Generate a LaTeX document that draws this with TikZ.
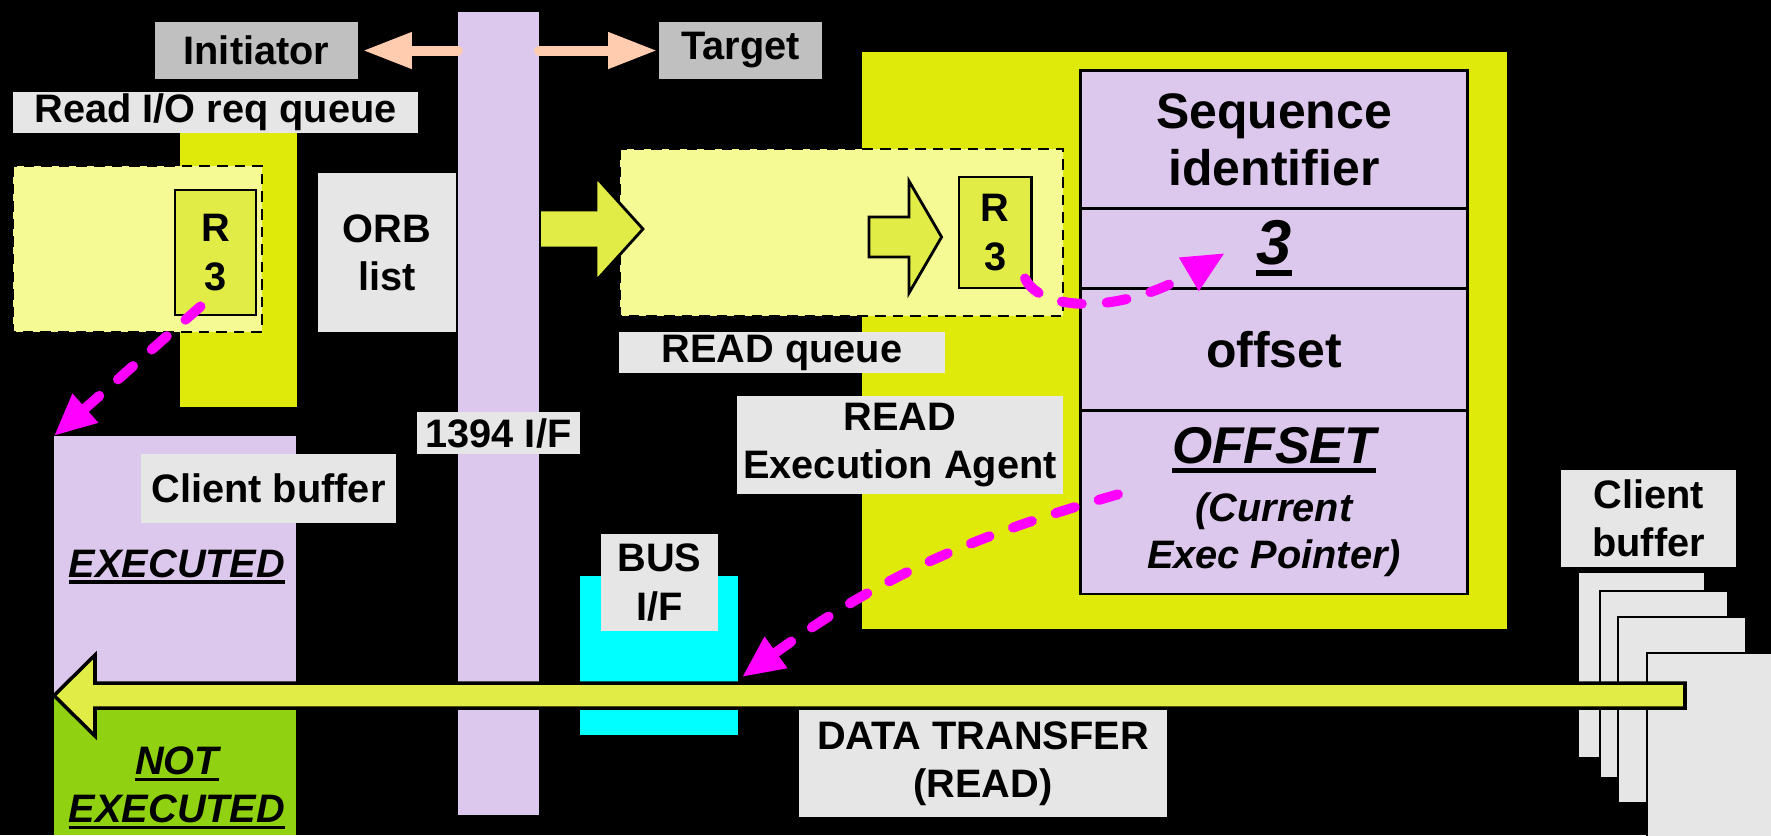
\documentclass[tikz,border=0pt]{standalone}
\usepackage{fontspec}
\setmainfont{Liberation Sans}
\usepackage{tikz}
\usetikzlibrary{arrows.meta, positioning, calc}

\definecolor{lav}{RGB}{220,200,236}
\definecolor{ylw}{RGB}{224,234,10}
\definecolor{paleylw}{RGB}{245,250,148}
\definecolor{limey}{RGB}{225,236,70}
\definecolor{grn}{RGB}{144,210,18}
\definecolor{lgray}{RGB}{230,230,230}
\definecolor{mgray}{RGB}{192,192,192}
\definecolor{salmon}{RGB}{255,204,176}
\definecolor{mag}{RGB}{255,0,255}
\definecolor{cyn}{RGB}{0,255,255}

\newcommand{\lblfont}{\bfseries\fontsize{11.3}{13.7}\selectfont}
\newcommand{\tblfont}{\bfseries\fontsize{14.2}{16.2}\selectfont}
\newcommand{\fatul}[1]{\setbox0=\hbox{#1}\rlap{\rule[-0.17em]{\wd0}{0.09em}}\box0}

\tikzset{
  lbl/.style={fill=lgray, inner sep=0pt, align=center, font=\lblfont},
  tag/.style={fill=mgray, inner sep=0pt, font=\lblfont},
  rbox/.style={draw, fill=limey, line width=0.8pt, inner sep=0pt, align=center, font=\lblfont},
  cell/.style={draw, fill=lav, line width=0.8pt, inner sep=0pt, outer sep=0pt, minimum width=3.86cm, align=center},
  blockarr/.style={draw, fill=limey, line width=0.8pt, line join=miter},
  queuebox/.style={draw, fill=paleylw, densely dashed, line width=0.6pt},
  magarr/.style={mag, line width=0.1cm, line cap=round, dash pattern=on 0.2cm off 0.25cm, -{Triangle[length=0.42cm,width=0.36cm]}},
  pinkarr/.style={salmon, line width=0.1cm, line cap=round, -{Triangle[length=0.49cm,width=0.34cm]}},
  page/.style={draw, fill=lgray, line width=0.6pt}
}

\begin{document}
\begin{tikzpicture}[x=0.01cm, y=-0.01cm]
\useasboundingbox (0,0) rectangle (1771,835);
\fill[black] (0,0) rectangle (1771,835);

% initiator side queue
\fill[ylw] (180,133) rectangle (297,407);
\node[lbl, minimum width=4.05cm, minimum height=0.41cm] (rqlbl) at (215.5,112.5) {Read I/O req queue};
\draw[queuebox] (13,166) rectangle (262,332);
\node[rbox, minimum width=0.81cm, minimum height=1.25cm] (rone) at (215.5,252.5) {R\\3};
\node[lbl, minimum width=1.385cm, minimum height=1.59cm] (orb) at (387,252.5) {ORB\\list};

% bus and its two ends
\node[tag, minimum width=2.03cm, minimum height=0.57cm] (init) at (256.5,50.5) {Initiator};
\node[tag, minimum width=1.63cm, minimum height=0.57cm] (targ) at (740.5,50.5) {Target};
\node[fill=lav, minimum width=0.8cm, minimum height=8.03cm, inner sep=0pt] (bar) at (498.5,413.5) {};
\draw[pinkarr, shorten >=0.04cm] (bar.west |- init.east) -- (init.east);
\draw[pinkarr, shorten >=0.01cm] (bar.east |- targ.west) -- (targ.west);
\node[lbl, minimum width=1.63cm, minimum height=0.42cm] (iflbl) at (498.5,433) {1394 I/F};

% target side
\fill[ylw] (862,51.5) rectangle (1506.7,629);
\draw[queuebox] (620,149) rectangle (1063,316);
\draw[blockarr] (541,210) -- (596,210) -- (596,177) -- (643,229) -- (596,281) -- (596,248) -- (541,248);
\draw[blockarr] (869,217) -- (909,217) -- (909,181) -- (941.6,237) -- (909,293) -- (909,257) -- (869,257) -- cycle;
\node[rbox, minimum width=0.726cm, minimum height=1.11cm] (rtwo) at (995.3,232.5) {R\\3};
\node[lbl, minimum width=3.265cm, minimum height=0.41cm] (rdq) at (782,352.5) {READ queue};
\node[lbl, minimum width=3.26cm, minimum height=0.98cm] (rea) at (900,445) {READ\\Execution Agent};

\node[cell, minimum height=1.378cm, font=\tblfont] (seqid) at (1274,139.5) {Sequence\\identifier};
\node[cell, minimum height=0.796cm, below=0pt of seqid, font=\bfseries\itshape\fontsize{18}{20}\selectfont] (seqno) {\fatul{3}};
\node[cell, minimum height=1.225cm, below=0pt of seqno, font=\tblfont] (offs) {offset};
\node[cell, minimum height=1.833cm, below=0pt of offs, font=\bfseries\itshape\fontsize{11.3}{13.4}\selectfont] (curoff)
  {{\fontsize{14.7}{17}\selectfont\fatul{OFFSET}}\\[3pt] (Current\\ Exec Pointer)};

% client buffer (initiator)
\node[fill=lav, minimum width=2.42cm, minimum height=2.6cm, inner sep=0pt, outer sep=0pt] (cbuf) at (175,566) {};
\fill[grn] (54,696) rectangle (296,835);
\node[lbl, minimum width=2.55cm, minimum height=0.69cm] (cbl) at (268.5,488.5) {Client buffer};
\node[font=\lblfont\itshape, anchor=base] (exe) at (177,577) {\fatul{EXECUTED}};
\node[font=\lblfont\itshape, align=center] (notexe) at (177,788) {\fatul{NOT}\\\fatul{EXECUTED}};

% bus interface
\node[fill=cyn, minimum width=1.58cm, minimum height=1.59cm, inner sep=0pt] (busif) at (659,655.5) {};
\node[lbl, minimum width=1.17cm, minimum height=0.97cm] (busl) at (659.5,582.5) {BUS\\I/F};

% client buffer (target)
\foreach \xa/\ya/\xb/\yb in {1578/572/1705/758, 1600/591/1728/778, 1618/617/1746/803, 1647/653/1790/850}
  \draw[page] (\xa,\ya) rectangle (\xb,\yb);
\node[lbl, minimum width=1.75cm, minimum height=0.97cm] (rcb) at (1648.5,518.5) {Client\\buffer};

% data transfer
\draw[blockarr, line width=1pt] (1685,683) -- (95,683) -- (95,655) -- (54,695.5) -- (95,736) -- (95,708) -- (1685,708) -- cycle;
\node[lbl, minimum width=3.685cm, minimum height=1.07cm] (dtl) at (983,763.5) {DATA TRANSFER\\(READ)};

% pointers
\coordinate (numtip) at (1225,253);
\coordinate (bustip) at (742,677);
\draw[magarr] ($(rone.south)+(-15,-10)$) -- (cbuf.north west);
\draw[magarr] ($(rtwo.south east)+(-8,-11)$) .. controls +(16,33) and +(-105,62) .. (numtip);
\draw[magarr] ($(curoff.west)+(37,-8)$) to[bend right=10] (bustip);
\end{tikzpicture}
\end{document}
